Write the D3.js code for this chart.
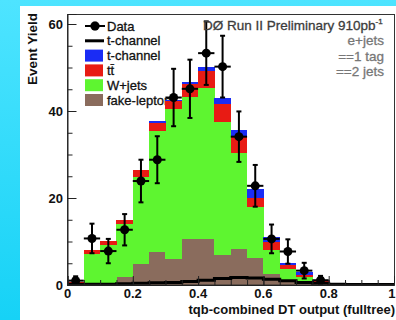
<!DOCTYPE html>
<html>
<head>
<meta charset="utf-8">
<script src="https://cdn.jsdelivr.net/npm/d3@7"></script>
<style>
  html, body { margin: 0; padding: 0; }
  body { width: 396px; height: 320px; overflow: hidden; }
  svg { display: block; font-family: "Liberation Sans", Arial, sans-serif; }
</style>
</head>
<body>
<div id="chart"></div>
<script>
// 20 bins of width 0.05 on the DT output
const binEdges = d3.range(0, 21).map(i => i / 20);

// stacked backgrounds, bottom to top
const fakeLepton = [0, 0, 0, 1.9, 4.8, 7.6, 6.0, 10.5, 10.5, 7.0, 8.2, 6.3, 2.5, 1.0, 0.4, 0.2, 0, 0, 0, 0];
const wJets      = [0.3, 7.2, 9.2, 12.1, 20.0, 27.9, 34.4, 32.8, 34.9, 30.5, 22.1, 11.7, 5.5, 2.7, 1.5, 0.6, 0.2, 0, 0, 0];
const ttbar      = [0.4, 0.8, 0.9, 1.0, 1.6, 1.8, 1.9, 2.9, 3.9, 4.0, 3.7, 1.9, 1.8, 0.9, 0.4, 0.1, 0, 0, 0, 0];
const tChannel   = [0, 0, 0, 0, 0.1, 0.4, 0.2, 0.5, 0.8, 1.4, 1.6, 2.1, 1.3, 0.5, 0.8, 0.2, 0.2, 0, 0, 0];

// t-channel signal drawn alone as a line
const tChannelLine = [0.2, 0.2, 0.2, 0.3, 0.4, 0.5, 0.6, 0.8, 1.1, 1.5, 1.7, 1.6, 1.3, 1.0, 0.6, 0.4, 0.2, 0.1, 0.1, 0.1];

// data
const dataVals = [1, 10.7, 7.8, 12.7, 23.9, 28.8, 43.1, 45.1, 53.3, 50.2, 34.1, 22.8, 10.6, 7.7, 3.3, 1.1, 0, 0, 0, 0];
const dataErrs = [1, 3.4, 2.8, 3.6, 4.9, 5.4, 6.6, 6.7, 7.3, 7.1, 5.8, 4.8, 3.3, 2.8, 1.8, 1.0, 0, 0, 0, 0];

const xTicks = [0, 0.2, 0.4, 0.6, 0.8, 1];
const xTickLabels = ['0', '0.2', '0.4', '0.6', '0.8', '1'];
const yTicks = [0, 20, 40, 60];

const seriesColors = ['#8a6c5d', '#5ef530', '#e81b14', '#1a2cf5'];

const W = 396, H = 320;
const svg = d3.select('#chart').append('svg').attr('width', W).attr('height', H);

// cyan backdrop and white panel
const grad = svg.append('defs').append('linearGradient')
  .attr('id', 'bg').attr('x1', 0).attr('y1', 0).attr('x2', 0).attr('y2', 1);
grad.append('stop').attr('offset', '0%').attr('stop-color', '#4ee4ff');
grad.append('stop').attr('offset', '100%').attr('stop-color', '#16d2f6');
svg.append('rect').attr('width', W).attr('height', H).attr('fill', 'url(#bg)');
svg.append('rect').attr('x', 20).attr('y', 6).attr('width', W - 20).attr('height', H - 6).attr('fill', '#fff');

const x = d3.scaleLinear().domain([0, 1]).range([67.5, 394]);
const y = d3.scaleLinear().domain([0, 62.3]).range([285, 14]);

// legend (drawn first, histograms overlap it)
const leg = svg.append('g').attr('font-size', 13).attr('fill', '#111')
  .attr('stroke', '#111').attr('stroke-width', 0.3);
const legRows = [
  { label: 'Data', kind: 'data' },
  { label: 't-channel', kind: 'line' },
  { label: 't-channel', kind: 'box', color: seriesColors[3] },
  { label: 'tt\u0304', kind: 'box', color: seriesColors[2] },
  { label: 'W+jets', kind: 'box', color: seriesColors[1] },
  { label: 'fake-lepton', kind: 'box', color: seriesColors[0] }
];
legRows.forEach((r, i) => {
  const cy = 26 + i * 14.8;
  if (r.kind === 'data') {
    leg.append('line').attr('x1', 85).attr('x2', 105).attr('y1', cy).attr('y2', cy)
      .attr('stroke', '#000').attr('stroke-width', 2);
    leg.append('circle').attr('cx', 95).attr('cy', cy).attr('r', 4.5).attr('fill', '#000');
  } else if (r.kind === 'line') {
    leg.append('line').attr('x1', 85).attr('x2', 104).attr('y1', cy).attr('y2', cy)
      .attr('stroke', '#000').attr('stroke-width', 3);
  } else {
    leg.append('rect').attr('x', 85).attr('y', cy - 6).attr('width', 18).attr('height', 12)
      .attr('fill', r.color).attr('stroke', 'none');
  }
  leg.append('text').attr('x', 107).attr('y', cy).attr('dy', '0.36em').text(r.label);
});

// stacked histogram
const rows = dataVals.map((d, i) => ({ i, fake: fakeLepton[i], w: wJets[i], tt: ttbar[i], tc: tChannel[i] }));
const stack = d3.stack().keys(['fake', 'w', 'tt', 'tc'])(rows);
svg.append('g').selectAll('g').data(stack).join('g')
  .attr('fill', (d, k) => seriesColors[k])
  .selectAll('rect').data(d => d).join('rect')
  .attr('x', d => x(binEdges[d.data.i]))
  .attr('width', d => x(binEdges[d.data.i + 1]) - x(binEdges[d.data.i]) + 0.3)
  .attr('y', d => y(d[1]))
  .attr('height', d => Math.max(0, y(d[0]) - y(d[1])))
  .attr('shape-rendering', 'crispEdges');

// t-channel line histogram
const stepPts = [];
tChannelLine.forEach((v, i) => { stepPts.push([binEdges[i], v]); stepPts.push([binEdges[i + 1], v]); });
svg.append('path')
  .attr('d', d3.line().x(d => x(d[0])).y(d => y(d[1]))(stepPts))
  .attr('fill', 'none').attr('stroke', '#000').attr('stroke-width', 3);

// data points
const dg = svg.append('g').attr('stroke', '#000').attr('stroke-width', 2);
dataVals.forEach((v, i) => {
  if (v <= 0) return;
  const cx = x((binEdges[i] + binEdges[i + 1]) / 2);
  const e = dataErrs[i];
  dg.append('line').attr('x1', x(binEdges[i])).attr('x2', x(binEdges[i + 1])).attr('y1', y(v)).attr('y2', y(v));
  dg.append('line').attr('x1', cx).attr('x2', cx).attr('y1', y(Math.max(0, v - e))).attr('y2', y(v + e));
  dg.append('line').attr('x1', cx - 2.5).attr('x2', cx + 2.5).attr('y1', y(v + e)).attr('y2', y(v + e));
  if (v - e > 0) dg.append('line').attr('x1', cx - 2.5).attr('x2', cx + 2.5).attr('y1', y(v - e)).attr('y2', y(v - e));
  dg.append('circle').attr('cx', cx).attr('cy', y(v)).attr('r', 4.5).attr('fill', '#000').attr('stroke', 'none');
});

// frame
svg.append('rect').attr('x', 67.5).attr('y', 14.5).attr('width', 327).attr('height', 270.5)
  .attr('fill', 'none').attr('stroke', '#333').attr('stroke-width', 1);

// y axis: ticks point inside
const yAxis = d3.axisRight(y).tickValues(yTicks).tickSize(9).tickFormat('');
const yMinor = d3.axisRight(y).tickValues(d3.range(0, 62, 5)).tickSize(5).tickFormat('');
svg.append('g').attr('transform', 'translate(67.5,0)').call(yMinor).call(g => g.select('.domain').remove())
  .selectAll('line').attr('stroke', '#222');
svg.append('g').attr('transform', 'translate(67.5,0)').call(yAxis).call(g => g.select('.domain').attr('stroke', '#222'))
  .selectAll('line').attr('stroke', '#222');
svg.append('g').attr('font-size', 13).attr('font-weight', 'bold').attr('fill', '#111')
  .selectAll('text').data(yTicks).join('text')
  .attr('x', 63).attr('y', d => y(d)).attr('dy', '0.36em').attr('text-anchor', 'end')
  .text(d => d);

// x axis: ticks point up
const xAxis = d3.axisTop(x).tickValues(xTicks).tickSize(9).tickFormat('');
const xMinor = d3.axisTop(x).tickValues(d3.range(0, 1.001, 0.05)).tickSize(5).tickFormat('');
svg.append('g').attr('transform', 'translate(0,285)').call(xMinor).call(g => g.select('.domain').remove())
  .selectAll('line').attr('stroke', '#222');
svg.append('g').attr('transform', 'translate(0,285)').call(xAxis).call(g => g.select('.domain').attr('stroke', '#222'))
  .selectAll('line').attr('stroke', '#222');
svg.append('g').attr('font-size', 13).attr('font-weight', 'bold').attr('fill', '#111')
  .selectAll('text').data(xTicks).join('text')
  .attr('x', d => d === 1 ? W - 0.5 : x(d)).attr('y', 298)
  .attr('text-anchor', d => d === 1 ? 'end' : 'middle')
  .text((d, i) => xTickLabels[i]);

// axis titles
svg.append('text').attr('x', 395).attr('y', 314).attr('text-anchor', 'end')
  .attr('font-size', 13).attr('font-weight', 'bold').attr('fill', '#111')
  .text('tqb-combined DT output (fulltree)');
svg.append('text').attr('transform', 'translate(37,13) rotate(-90)').attr('text-anchor', 'end')
  .attr('font-size', 13.5).attr('font-weight', 'bold').attr('fill', '#111')
  .text('Event Yield');

// annotations
const title = svg.append('text').attr('x', 203).attr('y', 30).attr('font-size', 13.5)
  .attr('fill', '#3c3c3c').attr('stroke', '#3c3c3c').attr('stroke-width', 0.3);
title.append('tspan').text('DØ Run II Preliminary 910pb');
title.append('tspan').attr('font-size', 8).attr('dy', -6).text('-1');
const notes = ['e+jets', '==1 tag', '==2 jets'];
svg.append('g').attr('font-size', 13.5).attr('fill', '#777').attr('stroke', '#777').attr('stroke-width', 0.3)
  .attr('text-anchor', 'end')
  .selectAll('text').data(notes).join('text')
  .attr('x', 384).attr('y', (d, i) => 45 + i * 15.5).text(d => d);
</script>
</body>
</html>
